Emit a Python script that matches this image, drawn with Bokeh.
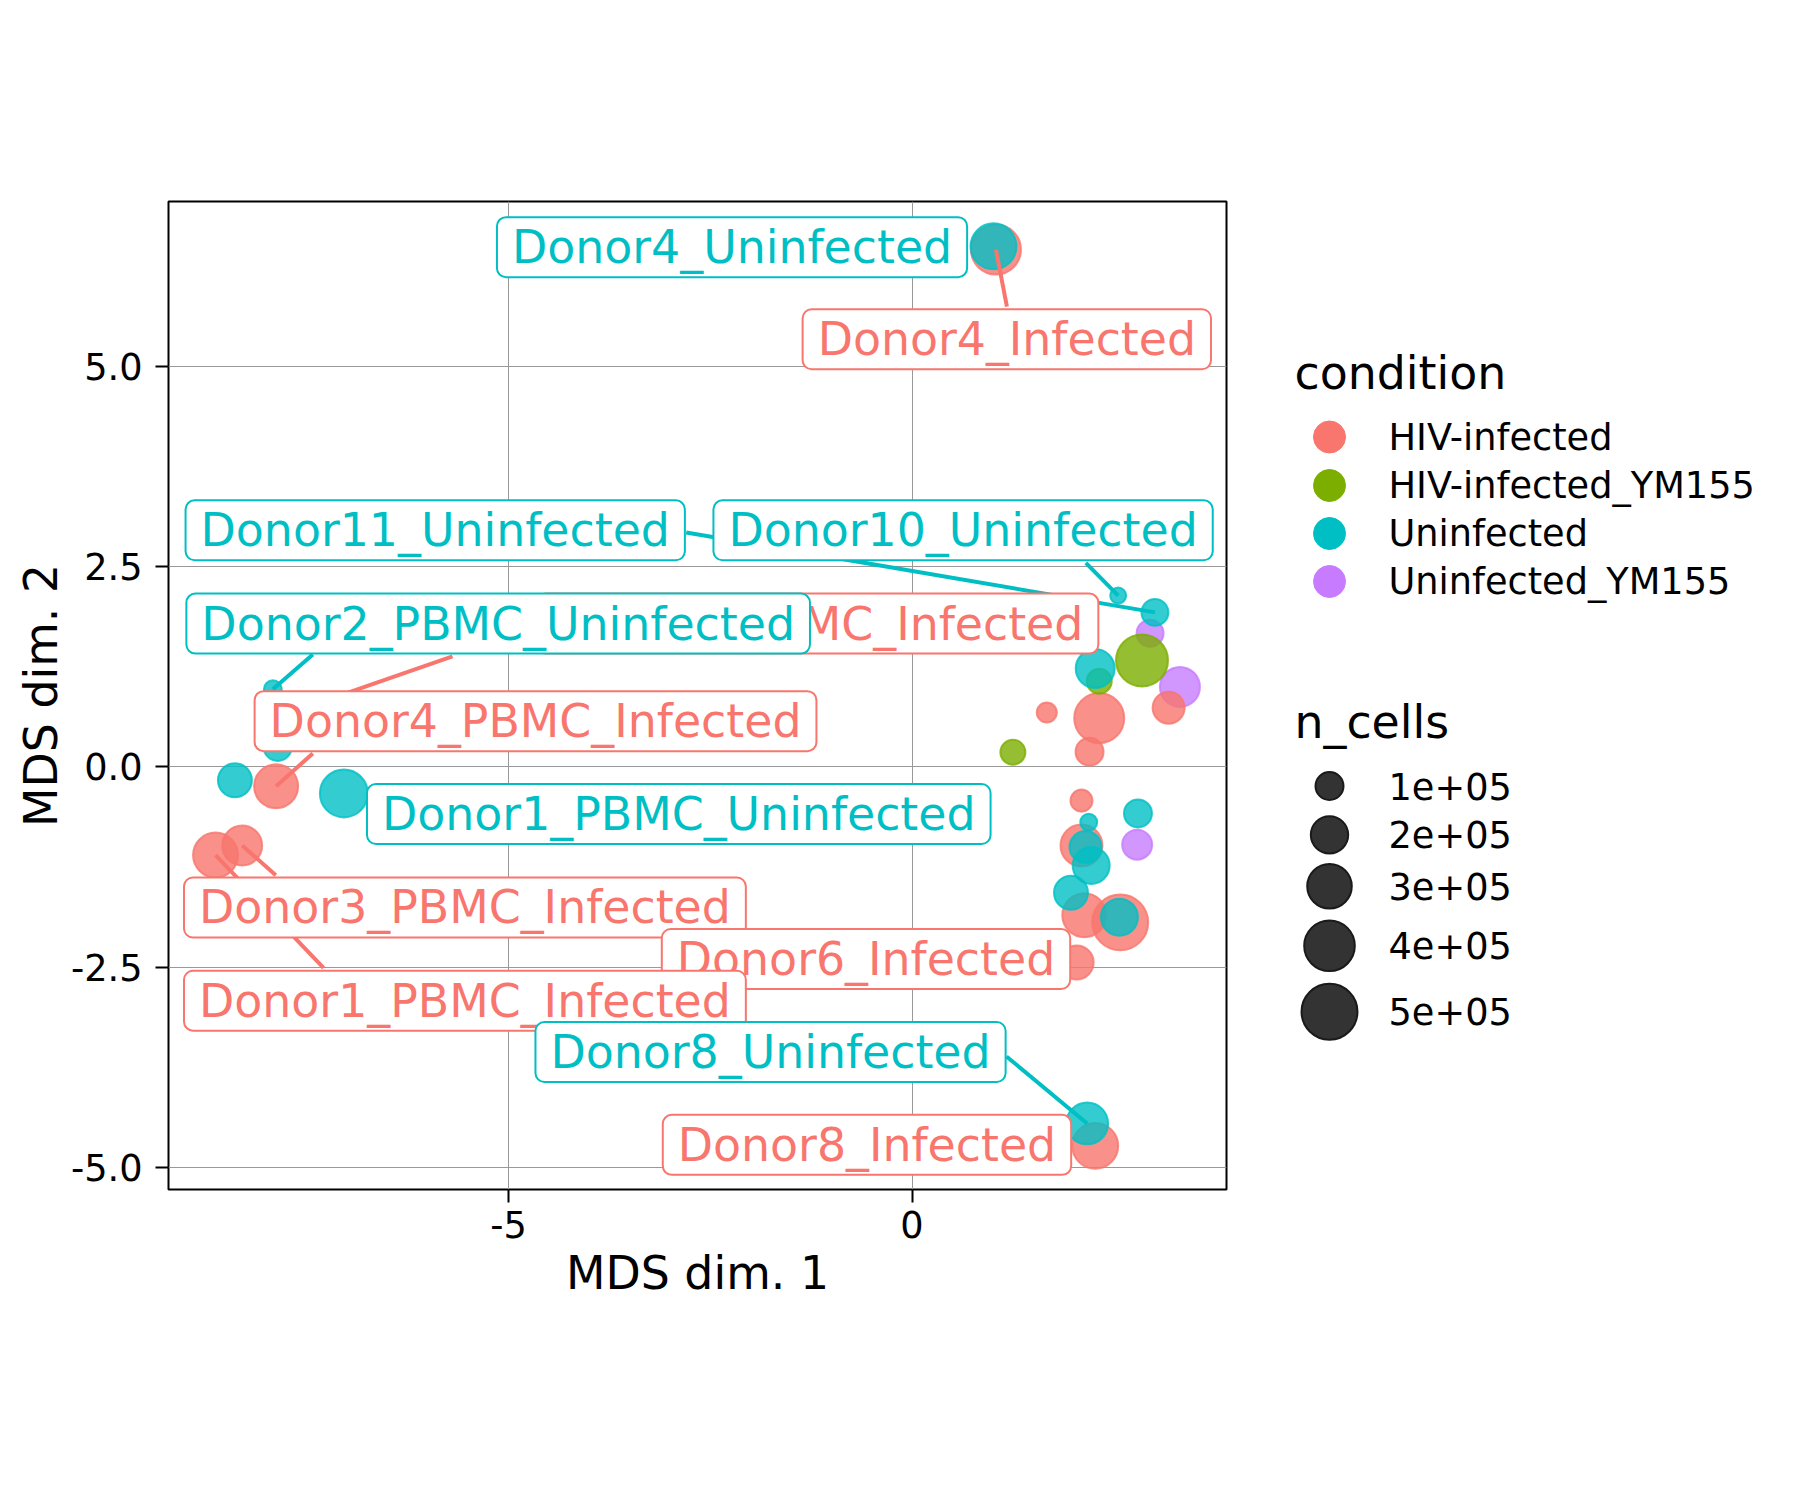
import numpy as np
from bokeh.plotting import figure
from bokeh.layouts import row
from bokeh.models import ColumnDataSource, Range1d, CDSView, IndexFilter
from bokeh.core.properties import value
from bokeh.embed import file_html
from bokeh.resources import INLINE

# ---------------- data ----------------
condition_levels = ["HIV-infected", "HIV-infected_YM155", "Uninfected", "Uninfected_YM155"]
condition_colors = ["#F8766D", "#7CAE00", "#00BFC4", "#C77CFF"]

sample_name = [
    "", "", "",
    "Donor4_Infected", "", "", "", "", "", "", "", "",
    "Donor6_Infected", "Donor8_Infected", "Donor4_PBMC_Infected",
    "Donor1_PBMC_Infected", "Donor3_PBMC_Infected", "Donor2_PBMC_Infected",
    "", "", "",
    "Donor4_Uninfected", "Donor10_Uninfected", "Donor11_Uninfected", "", "", "",
    "", "", "", "", "Donor8_Uninfected", "", "Donor1_PBMC_Uninfected", "",
    "Donor2_PBMC_Uninfected",
]
sample_condition = (
    ["Uninfected_YM155"] * 3
    + ["HIV-infected"] * 15
    + ["HIV-infected_YM155"] * 3
    + ["Uninfected"] * 15
)
mds1 = [
    2.95, 3.32, 2.79,
    1.04, 3.18, 1.67, 2.32, 2.20, 2.10, 2.10, 2.135, 2.58, 2.04, 2.27,
    -7.88, -8.63, -8.30, -7.81,
    2.85, 2.32, 1.25,
    1.01, 2.555, 3.01, 2.27, 2.80, 2.19, 2.15, 2.22, 1.97, 2.57, 2.17,
    -8.39, -7.04, -7.86, -7.92,
]
mds2 = [
    1.67, 1.00, -0.97,
    6.46, 0.74, 0.68, 0.61, 0.19, -0.42, -0.98, -1.85, -1.94, -2.44, -4.73,
    -0.24, -1.10, -0.98, 0.64,
    1.33, 1.07, 0.185,
    6.50, 2.14, 1.93, 1.23, -0.58, -0.69, -1.00, -1.23, -1.57, -1.875, -4.45,
    -0.165, -0.33, 0.25, 0.97,
]
n_cells = [
    91000, 234000, 118000,
    390000, 139000, 42000, 390000, 100000, 54000, 262000, 292000, 500000, 160000, 323000,
    292000, 307000, 234000, 100000,
    425000, 75000, 75000,
    323000, 22000, 91000, 221000, 100000, 26000, 139000, 196000, 160000, 196000, 262000,
    160000, 355000, 100000, 31000,
]

# repelled label positions, in drawing order
label_text = [
    "Donor2_PBMC_Infected", "Donor2_PBMC_Uninfected", "Donor4_PBMC_Infected",
    "Donor1_PBMC_Uninfected", "Donor3_PBMC_Infected", "Donor6_Infected",
    "Donor1_PBMC_Infected", "Donor8_Uninfected", "Donor8_Infected",
    "Donor11_Uninfected", "Donor10_Uninfected", "Donor4_Uninfected", "Donor4_Infected",
]
label_x = [-1.172, -5.128, -4.665, -2.89, -5.54, -0.570, -5.54, -1.753, -0.558,
           -5.908, 0.633, -2.23, 1.175]
label_y = [1.79, 1.79, 0.572, -0.587, -1.754, -2.397, -2.918, -3.558, -4.717,
           2.955, 2.955, 6.49, 5.34]

# connector segments: label, start point on the label box
seg_label = ["Donor4_Infected", "Donor11_Uninfected", "Donor10_Uninfected",
             "Donor2_PBMC_Uninfected", "Donor2_PBMC_Infected", "Donor4_PBMC_Infected",
             "Donor3_PBMC_Infected", "Donor1_PBMC_Infected", "Donor8_Uninfected"]
seg_x0 = [1.176, -2.798, 2.154, -7.425, -5.694, -7.425, -7.884, -7.292, 1.171]
seg_y0 = [5.749, 2.928, 2.549, 1.404, 1.38, 0.169, -1.351, -2.507, -3.614]

x_ticks = [-5, 0]
x_tick_labels = ["-5", "0"]
y_ticks = [-5.0, -2.5, 0.0, 2.5, 5.0]
y_tick_labels = ["-5.0", "-2.5", "0.0", "2.5", "5.0"]
size_breaks = [100000, 200000, 300000, 400000, 500000]
size_break_labels = ["1e+05", "2e+05", "3e+05", "4e+05", "5e+05"]

# ---------------- styling helpers ----------------
FONT = "DejaVu Sans"
cmap = dict(zip(condition_levels, condition_colors))
LW = 2


def diam(n):
    return 7.4 + 22.6 * np.sqrt(np.asarray(n, dtype=float) / 1e5)


FRAME_L, FRAME_T, FRAME_W, FRAME_H = 168, 201, 1058, 988
FRAME_B = FRAME_T + FRAME_H
H = 1484
RIGHT_PAD = 10
MAIN_W = FRAME_L + FRAME_W + RIGHT_PAD
LEG_W = 1784 - MAIN_W

p = figure(
    frame_width=FRAME_W, frame_height=FRAME_H,
    x_range=Range1d(-9.213, 3.897), y_range=Range1d(-5.275, 7.06),
    output_backend="svg", toolbar_location=None,
    min_border_left=FRAME_L, min_border_top=FRAME_T,
    min_border_right=RIGHT_PAD, min_border_bottom=H - FRAME_B,
    background_fill_color="white", border_fill_color="white",
)
p.outline_line_color = "black"
p.outline_line_width = 2

for ax in (p.xaxis[0], p.yaxis[0]):
    ax.axis_line_color = None
    ax.major_tick_line_color = "black"
    ax.major_tick_line_width = 2
    ax.major_tick_out = 13
    ax.major_tick_in = 0
    ax.minor_tick_line_color = None
    ax.major_label_text_font = FONT
    ax.major_label_text_font_size = "36.7px"
    ax.major_label_text_color = "black"
    ax.axis_label_text_font = FONT
    ax.axis_label_text_font_size = "45.8px"
    ax.axis_label_text_font_style = "normal"
    ax.axis_label_text_color = "black"

p.xaxis.axis_label = "MDS dim. 1"
p.yaxis.axis_label = "MDS dim. 2"
p.xaxis.ticker = x_ticks
p.yaxis.ticker = y_ticks
p.xaxis.major_label_overrides = {t: s for t, s in zip(x_ticks, x_tick_labels)}
p.yaxis.major_label_overrides = {t: s for t, s in zip(y_ticks, y_tick_labels)}
p.xaxis.major_label_standoff = 8
p.yaxis.major_label_standoff = 13
p.xaxis.axis_label_standoff = 5
p.yaxis.axis_label_standoff = 0

p.grid.grid_line_color = "#999999"
p.grid.grid_line_width = 1

# ---------------- points ----------------
pts = ColumnDataSource(dict(
    x=mds1, y=mds2,
    size=list(diam(n_cells) - LW),
    color=[cmap[c] for c in sample_condition],
))
p.scatter("x", "y", size="size", source=pts, fill_color="color", line_color="color",
          fill_alpha=0.8, line_alpha=0.8, line_width=LW)

# ---------------- segments ----------------
pos = {n: (x, y) for n, x, y in zip(sample_name, mds1, mds2) if n}
segs = ColumnDataSource(dict(
    x0=seg_x0, y0=seg_y0,
    x1=[pos[s][0] for s in seg_label], y1=[pos[s][1] for s in seg_label],
    color=[cmap["Uninfected"] if "Uninfected" in s else cmap["HIV-infected"] for s in seg_label],
))
p.segment("x0", "y0", "x1", "y1", source=segs, line_color="color", line_width=4)

# ---------------- labels (one renderer per label, to keep their stacking order) ----------------
labs = ColumnDataSource(dict(
    x=label_x, y=label_y, text=label_text,
    color=[cmap["Uninfected"] if "Uninfected" in s else cmap["HIV-infected"] for s in label_text],
))
for i in range(len(label_text)):
    p.text("x", "y", text="text", source=labs, view=CDSView(filter=IndexFilter([i])),
           text_color="color",
           text_font=value(FONT), text_font_size="45.8px",
           text_align="center", text_baseline="middle",
           background_fill_color="white", background_fill_alpha=1.0,
           border_line_color="color", border_line_width=2,
           padding=dict(left=15, right=15, top=3, bottom=3), border_radius=9)

# ---------------- legend panel (separate figure to the right) ----------------
# its frame spans the same rows as the main panel; coordinates are pixels
# measured from the panel's left edge and from the frame bottom upwards
lf = figure(
    frame_width=LEG_W, frame_height=FRAME_H,
    x_range=Range1d(0, LEG_W), y_range=Range1d(0, FRAME_H),
    output_backend="svg", toolbar_location=None,
    x_axis_location=None, y_axis_location=None,
    min_border_left=0, min_border_right=0,
    min_border_top=FRAME_T, min_border_bottom=H - FRAME_B,
    background_fill_color="white", border_fill_color="white",
)
lf.grid.visible = False
lf.outline_line_color = None

KEY_X = 1329 - MAIN_W
TEXT_X = 1388 - MAIN_W
TITLE_X = 1294 - MAIN_W


def ly(canvas_y):
    return FRAME_B - canvas_y


# condition legend
cond_key_y = [436.5, 485, 533, 581]
lf.scatter(x=[KEY_X] * len(condition_levels), y=[ly(v) for v in cond_key_y],
           size=32, fill_color=condition_colors, line_color=condition_colors, line_width=1)
lf.text(x=[TEXT_X] * len(condition_levels), y=[ly(v) for v in cond_key_y], text=condition_levels,
        text_font=value(FONT), text_font_size="36.7px", text_color="black",
        text_align="left", text_baseline="middle")

# n_cells legend
size_key_y = [785.5, 834.3, 885.8, 945.3, 1011.2]
lf.scatter(x=[KEY_X] * len(size_breaks), y=[ly(v) for v in size_key_y],
           size=list(diam(size_breaks) - LW), fill_color="#333333", line_color="#1a1a1a",
           line_width=LW)
lf.text(x=[TEXT_X] * len(size_breaks), y=[ly(v) for v in size_key_y], text=size_break_labels,
        text_font=value(FONT), text_font_size="36.7px", text_color="black",
        text_align="left", text_baseline="middle")

# legend titles
lf.text(x=[TITLE_X, TITLE_X], y=[ly(372), ly(721)], text=["condition", "n_cells"],
        text_font=value(FONT), text_font_size="45.8px", text_color="black",
        text_align="left", text_baseline="alphabetic")

layout = row(p, lf, spacing=0)
open("out.html", "w").write(file_html(layout, INLINE, title="MDS plot"))
